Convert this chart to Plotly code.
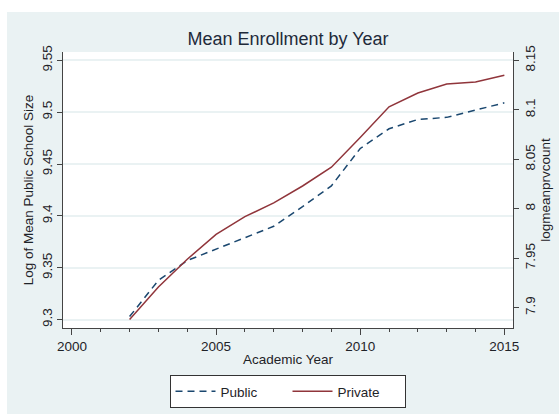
import plotly.graph_objects as go

years = [2002, 2003, 2004, 2005, 2006, 2007, 2008, 2009, 2010, 2011, 2012, 2013, 2014, 2015]
public_log_size = [9.303, 9.338, 9.357, 9.368, 9.379, 9.390, 9.409, 9.429, 9.465, 9.484, 9.493, 9.495, 9.502, 9.509]
private_log_count = [7.888, 7.921, 7.949, 7.974, 7.992, 8.006, 8.023, 8.042, 8.072, 8.103, 8.117, 8.126, 8.128, 8.135]

FONT = "Liberation Sans, Arial, sans-serif"
BG = "#EAF2F3"

fig = go.Figure()
fig.add_trace(go.Scatter(x=years, y=public_log_size, name="Public", mode="lines",
                         line=dict(color="#1a476f", width=1.5, dash="7px,5px"), yaxis="y"))
fig.add_trace(go.Scatter(x=years, y=private_log_count, name="Private", mode="lines",
                         line=dict(color="#90353b", width=1.5), yaxis="y2"))

L, R, T, B = 63, 46, 52, 86
W, H = 559, 414
pw, ph = W - L - R, H - T - B

def px_x(x):
    return (x - L) / pw

def px_y(y):
    return (H - B - y) / ph

fig.update_layout(
    width=W, height=H,
    margin=dict(l=L, r=R, t=T, b=B, autoexpand=False),
    paper_bgcolor=BG, plot_bgcolor="white",
    font=dict(family=FONT, size=13.5, color="#1f2328"),
    title=dict(text="Mean Enrollment by Year", x=0.5, xanchor="center", xref="paper",
               y=1 - 39 / H, yanchor="middle", font=dict(size=18, color="#1e2a3a")),
    showlegend=True,
    legend=dict(orientation="h", x=px_x(287.5), xanchor="center", y=px_y(375), yanchor="top",
                bgcolor="white", bordercolor="#333333", borderwidth=1,
                font=dict(size=13.5, color="#1f2328"), itemwidth=40, entrywidth=62),
    xaxis=dict(range=[1999.69, 2015.30], tickvals=[2000, 2005, 2010, 2015],
               ticks="outside", ticklen=6, tickcolor="#444444",
               minor=dict(dtick=1, tick0=2000, ticks="outside", ticklen=3, tickcolor="#444444", showgrid=False),
               showline=True, linecolor="#444444", linewidth=1, showgrid=False, zeroline=False,
               title=dict(text="Academic Year", standoff=1, font=dict(size=13.5))),
    yaxis=dict(range=[9.292, 9.558], tick0=9.3, dtick=0.05, tickangle=-90,
               ticks="outside", ticklen=5, tickcolor="#444444",
               showline=True, linecolor="#444444", linewidth=1,
               showgrid=True, gridcolor=BG, gridwidth=1.5, zeroline=False,
               title=dict(text="Log of Mean Public School Size", standoff=2, font=dict(size=13.5))),
    yaxis2=dict(range=[7.8795, 8.1584], tick0=7.9, dtick=0.05, tickangle=-90,
                overlaying="y", side="right",
                ticks="outside", ticklen=5, tickcolor="#444444",
                showline=True, linecolor="#444444", linewidth=1,
                showgrid=False, zeroline=False,
                title=dict(text="logmeanprvcount", standoff=2, font=dict(size=13.5))),
    shapes=[
        dict(type="rect", xref="paper", yref="paper", x0=px_x(0), x1=px_x(W), y0=px_y(0), y1=px_y(12),
             fillcolor="white", line=dict(width=0), layer="above"),
        dict(type="rect", xref="paper", yref="paper", x0=px_x(0), x1=px_x(7), y0=px_y(0), y1=px_y(H),
             fillcolor="white", line=dict(width=0), layer="above"),
    ],
)

fig.write_html("out.html")
